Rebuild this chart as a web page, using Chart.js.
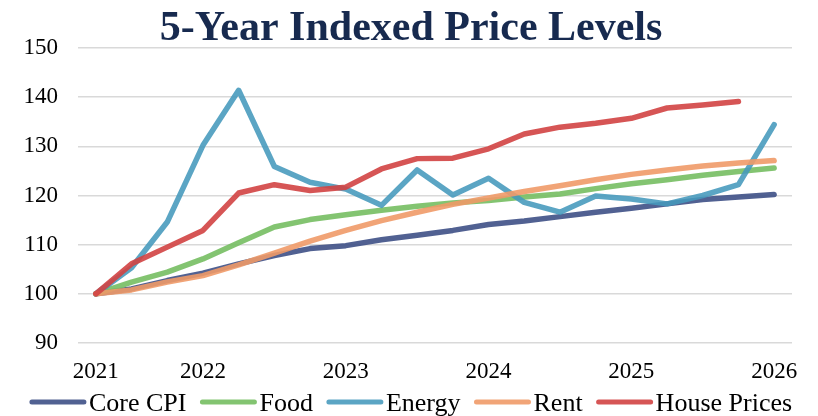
<!DOCTYPE html>
<html>
<head>
<meta charset="utf-8">
<script src="https://cdn.jsdelivr.net/npm/chart.js@4.4.1/dist/chart.umd.min.js"></script>
<style>
  html, body { margin: 0; padding: 0; background: #fff; overflow: hidden; }
  #wrap { width: 818px; height: 416px; position: relative; }
</style>
</head>
<body>
<div id="wrap"><canvas id="chart" width="818" height="416"></canvas></div>
<script>
// ─── Data (quarterly, indexed to 100) ────────────────────────────────────────
var YEAR_TICKS = ['2021', '', '', '2022', '', '', '', '2023', '', '', '', '2024',
                  '', '', '', '2025', '', '', '', '2026'];

var coreCpi = [100, 101.0, 102.7, 104.2, 106.1, 107.8, 109.2, 109.8, 111.0, 111.9,
               112.9, 114.1, 114.8, 115.7, 116.6, 117.4, 118.3, 119.2, 119.7, 120.2];
var food    = [100, 102.4, 104.4, 107.1, 110.4, 113.6, 115.1, 116.1, 117.0, 117.8,
               118.5, 119.0, 119.7, 120.3, 121.4, 122.4, 123.2, 124.1, 124.9, 125.6];
var energy  = [100, 105.3, 114.6, 130.2, 141.4, 125.9, 122.7, 121.3, 118.0, 125.2,
               120.1, 123.5, 118.6, 116.6, 119.9, 119.3, 118.3, 120.0, 122.2, 134.4];
var rent    = [100, 100.8, 102.4, 103.7, 105.9, 108.3, 110.7, 112.9, 114.9, 116.6,
               118.2, 119.5, 120.8, 122.0, 123.2, 124.3, 125.2, 126.0, 126.6, 127.1];
var house   = [100, 106.1, 109.5, 112.9, 120.5, 122.2, 121.0, 121.7, 125.4, 127.5,
               127.6, 129.5, 132.5, 133.9, 134.7, 135.7, 137.8, 138.4, 139.1, null];

var Y_MIN = 90, Y_MAX = 150, Y_STEP = 10;

var SERIF = '"Liberation Serif", "Times New Roman", serif';

// ─── Title + legend drawn on canvas (Excel-like spacing) ─────────────────────
var excelDecor = {
  id: 'excelDecor',
  afterDraw: function(chart) {
    var ctx = chart.ctx;
    ctx.save();

    // title
    ctx.font = 'bold 42px ' + SERIF;
    ctx.fillStyle = '#172a4f';
    ctx.textAlign = 'center';
    ctx.textBaseline = 'alphabetic';
    ctx.fillText('5-Year Indexed Price Levels', 411, 40);

    // legend
    var lineLen = 56, gap = 3, spacing = 14;
    ctx.font = '26px ' + SERIF;
    var items = chart.data.datasets.map(function(ds) {
      return { label: ds.label, color: ds.borderColor, w: ctx.measureText(ds.label).width };
    });
    var total = 0;
    items.forEach(function(it, i) {
      total += lineLen + gap + it.w + (i < items.length - 1 ? spacing : 0);
    });
    var x = 818 / 2 - total / 2 + 2;
    var yLine = 402, yText = 411;
    items.forEach(function(it) {
      ctx.beginPath();
      ctx.lineCap = 'round';
      ctx.lineWidth = 5;
      ctx.strokeStyle = it.color;
      ctx.moveTo(x + 2, yLine);
      ctx.lineTo(x + lineLen - 2, yLine);
      ctx.stroke();
      ctx.fillStyle = '#000';
      ctx.textAlign = 'left';
      ctx.fillText(it.label, x + lineLen + gap, yText);
      x += lineLen + gap + it.w + spacing;
    });
    ctx.restore();
  }
};

function series(label, data, color, order) {
  return {
    label: label,
    data: data,
    borderColor: color,
    backgroundColor: color,
    borderWidth: 5.5,
    borderCapStyle: 'round',
    borderJoinStyle: 'round',
    pointRadius: 0,
    tension: 0,
    spanGaps: false,
    fill: false,
    order: order
  };
}

new Chart(document.getElementById('chart').getContext('2d'), {
  type: 'line',
  plugins: [excelDecor],
  data: {
    labels: YEAR_TICKS,
    datasets: [
      series('Core CPI',     coreCpi, 'rgba(62, 80, 134, 0.9)',  4),
      series('Food',         food,    'rgba(118, 190, 98, 0.9)', 3),
      series('Energy',       energy,  'rgba(68, 153, 188, 0.88)', 2),
      series('Rent',         rent,    'rgba(240, 154, 104, 0.9)', 1),
      series('House Prices', house,   'rgba(210, 66, 66, 0.9)',  0)
    ]
  },
  options: {
    responsive: false,
    animation: false,
    layout: { padding: { top: 48, left: 0, right: 26, bottom: 0 } },
    plugins: {
      legend: { display: false },
      title: { display: false },
      tooltip: { enabled: false }
    },
    scales: {
      x: {
        offset: true,
        grid: { display: false, drawTicks: false },
        border: { display: false },
        ticks: {
          autoSkip: false,
          maxRotation: 0,
          padding: 15,
          color: '#000',
          font: { family: SERIF, size: 23 }
        },
        afterFit: function(scale) { scale.height = 416 - 343; }
      },
      y: {
        min: Y_MIN,
        max: Y_MAX,
        grid: { color: '#d9d9d9', lineWidth: 1.5, drawTicks: false },
        border: { display: false },
        ticks: {
          stepSize: Y_STEP,
          padding: 20,
          color: '#000',
          font: { family: SERIF, size: 23 }
        },
        afterFit: function(scale) { scale.width = 78; }
      }
    }
  }
});
</script>
</body>
</html>
